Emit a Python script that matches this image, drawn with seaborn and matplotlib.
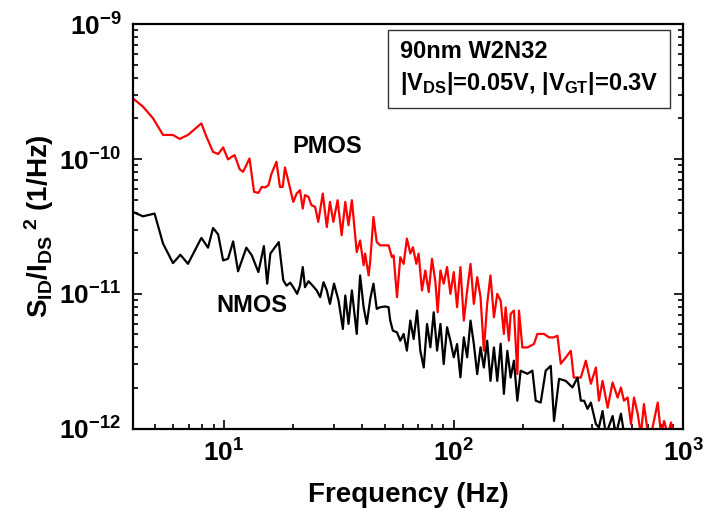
import matplotlib
matplotlib.use("Agg")
import matplotlib.pyplot as plt
import seaborn as sns
import pandas as pd
import numpy as np
from matplotlib.ticker import LogLocator, NullFormatter

# ---------------- data ----------------
pmos_f = [4.0, 4.43, 4.90, 5.42, 5.99, 6.40, 6.96, 7.96, 8.37, 8.95, 9.42, 9.90,
          10.4, 10.8, 11.1, 11.7, 12.1, 12.9, 13.5, 14.1, 14.6, 15.05, 15.6, 16.1,
          16.9, 17.5, 18.0, 18.4, 19.0, 20.0, 20.7, 21.4, 22.0, 22.5, 23.3, 24.0,
          24.9, 25.7, 26.9, 28.0, 28.9, 29.9, 31.2, 32.5, 33.7, 34.8, 36.0, 37.8,
          39.1, 40.5, 41.1, 42.6, 43.3, 44.7, 46.2, 47.8, 49.5, 52.0, 53.8, 54.7,
          56.6, 58.5, 60.5, 62.5, 64.7, 66.4, 68.7, 70.3, 72.7, 75.2, 77.8, 80.4,
          83.2, 85.1, 87.5, 90.4, 93.5, 96.7, 100.0, 103.4, 106.9, 110.6, 114.4,
          118.3, 122.3, 126.5, 130.8, 135.2, 139.8, 144.5, 149.6, 154.7, 160.0,
          165.3, 168.2, 173.8, 176.9, 182.8, 189.2, 192.3, 198.9, 209.2, 223.4,
          231.2, 247.2, 260.0, 272.5, 282.8, 292.4, 307.4, 323.3, 333.2, 357.5,
          375.9, 395.4, 415.9, 428.6, 444.6, 467.8, 491.8, 517.0, 534.5, 550.8,
          571.6, 591.0, 609.2, 632.3, 653.1, 673.0, 699.0, 723.0, 773.0, 799.0,
          823.7, 855.0, 883.0, 907.0]
pmos_s = [2.83e-10, 2.45e-10, 2.01e-10, 1.51e-10, 1.51e-10, 1.41e-10, 1.51e-10,
          1.84e-10, 1.47e-10, 1.13e-10, 1.09e-10, 1.22e-10, 9.94e-11, 1.04e-10,
          1.07e-10, 8.38e-11, 8.05e-11, 1.01e-10, 5.71e-11, 5.61e-11, 6.22e-11,
          6.15e-11, 6.40e-11, 7.82e-11, 9.55e-11, 6.22e-11, 6.22e-11, 8.67e-11,
          6.98e-11, 4.81e-11, 5.55e-11, 5.88e-11, 4.29e-11, 5.40e-11, 5.24e-11,
          4.55e-11, 4.42e-11, 3.42e-11, 5.55e-11, 3.13e-11, 4.81e-11, 3.42e-11,
          4.95e-11, 2.72e-11, 4.81e-11, 3.23e-11, 4.95e-11, 2.04e-11, 2.49e-11,
          1.63e-11, 1.99e-11, 1.37e-11, 1.77e-11, 3.72e-11, 2.42e-11, 2.29e-11,
          2.29e-11, 2.29e-11, 1.87e-11, 1.93e-11, 9.45e-12, 1.87e-11, 1.67e-11,
          2.57e-11, 1.99e-11, 2.22e-11, 1.67e-11, 1.99e-11, 1.06e-11, 1.49e-11,
          1.03e-11, 1.82e-11, 1.22e-11, 7.30e-12, 1.49e-11, 1.19e-11, 1.58e-11,
          1.00e-11, 1.45e-11, 7.96e-12, 1.58e-11, 6.33e-12, 1.06e-11, 1.67e-11,
          8.42e-12, 1.33e-11, 9.45e-12, 3.79e-12, 8.42e-12, 1.37e-11, 6.69e-12,
          1.00e-11, 8.90e-12, 5.04e-12, 7.94e-12, 4.49e-12, 7.10e-12, 7.51e-12,
          2.54e-12, 7.51e-12, 4.00e-12, 4.00e-12, 4.24e-12, 5.04e-12, 5.04e-12,
          4.75e-12, 4.75e-12, 4.89e-12, 3.03e-12, 3.37e-12, 3.78e-12, 2.39e-12,
          2.39e-12, 3.19e-12, 2.15e-12, 2.84e-12, 1.61e-12, 2.26e-12, 1.43e-12,
          2.20e-12, 1.70e-12, 2.02e-12, 1.61e-12, 1.70e-12, 1.08e-12, 1.70e-12,
          1.29e-12, 0.90e-12, 1.52e-12, 0.95e-12, 0.90e-12, 1.56e-12, 0.90e-12,
          1.14e-12, 0.90e-12, 1.11e-12, 0.90e-12]

nmos_f = [4.0, 4.43, 4.98, 5.42, 5.99, 6.45, 6.96, 7.96, 8.51, 8.95, 9.42, 9.90,
          10.4, 10.95, 11.5, 12.5, 13.2, 14.1, 14.9, 15.4, 15.9, 17.3, 18.1, 18.7,
          19.4, 20.0, 20.8, 21.4, 22.0, 22.5, 23.3, 24.3, 25.3, 26.2, 27.1, 28.0,
          28.9, 30.1, 31.5, 32.9, 33.7, 34.8, 36.0, 37.8, 39.1, 40.5, 41.8, 43.3,
          44.7, 46.2, 47.8, 50.3, 52.0, 52.9, 54.3, 56.6, 58.5, 60.5, 62.5, 64.7,
          66.9, 69.2, 71.5, 74.0, 76.5, 79.1, 81.8, 84.6, 87.5, 90.4, 93.5, 96.7,
          100.0, 103.4, 106.9, 110.6, 114.4, 118.3, 122.3, 126.5, 130.8, 135.2,
          139.8, 144.5, 149.6, 154.7, 160.0, 165.3, 171.1, 176.9, 182.8, 189.2,
          195.6, 209.2, 220.0, 227.5, 239.1, 251.4, 264.4, 273.3, 287.4, 307.4,
          328.8, 345.9, 357.5, 369.6, 382.4, 395.4, 415.9, 428.6, 444.6, 459.6,
          491.8, 508.3, 534.5, 552.6, 591.0]
nmos_s = [4.06e-11, 3.76e-11, 3.94e-11, 2.36e-11, 1.69e-11, 1.95e-11, 1.67e-11,
          2.60e-11, 2.20e-11, 3.08e-11, 2.76e-11, 1.77e-11, 1.82e-11, 2.45e-11,
          1.47e-11, 2.20e-11, 1.93e-11, 1.45e-11, 2.26e-11, 1.19e-11, 1.99e-11,
          2.42e-11, 1.26e-11, 1.15e-11, 1.21e-11, 1.12e-11, 1.00e-11, 1.15e-11,
          1.58e-11, 1.12e-11, 1.24e-11, 1.15e-11, 1.06e-11, 9.45e-12, 1.22e-11,
          1.06e-11, 8.42e-12, 1.19e-11, 8.92e-12, 5.49e-12, 9.72e-12, 5.98e-12,
          1.06e-11, 5.04e-12, 1.37e-11, 7.96e-12, 5.98e-12, 9.18e-12, 1.19e-11,
          7.73e-12, 7.96e-12, 8.05e-12, 7.96e-12, 6.33e-12, 5.33e-12, 5.18e-12,
          4.49e-12, 5.04e-12, 3.79e-12, 6.33e-12, 4.62e-12, 7.51e-12, 3.79e-12,
          2.84e-12, 5.98e-12, 4.01e-12, 7.30e-12, 3.79e-12, 5.98e-12, 3.01e-12,
          5.65e-12, 4.49e-12, 3.38e-12, 4.24e-12, 2.40e-12, 4.76e-12, 3.38e-12,
          6.33e-12, 4.24e-12, 2.54e-12, 4.01e-12, 2.84e-12, 4.49e-12, 2.26e-12,
          4.00e-12, 2.26e-12, 4.27e-12, 1.81e-12, 3.78e-12, 2.39e-12, 3.19e-12,
          1.61e-12, 2.69e-12, 2.55e-12, 2.69e-12, 1.61e-12, 1.56e-12, 2.69e-12,
          2.92e-12, 1.14e-12, 2.34e-12, 2.26e-12, 2.02e-12, 2.39e-12, 1.61e-12,
          1.61e-12, 1.40e-12, 1.56e-12, 1.08e-12, 1.02e-12, 1.35e-12, 0.90e-12,
          1.24e-12, 0.90e-12, 1.29e-12, 0.90e-12, 0.90e-12]

series_names = ["PMOS", "NMOS"]
series_colors = ["#ff0000", "#000000"]
box_lines = ["90nm W2N32",
             r"|V$_{\mathdefault{DS}}$|=0.05V, |V$_{\mathdefault{GT}}$|=0.3V"]

df = pd.concat([
    pd.DataFrame({"f": pmos_f, "S": pmos_s, "dev": "PMOS"}),
    pd.DataFrame({"f": nmos_f, "S": nmos_s, "dev": "NMOS"}),
], ignore_index=True)

# ---------------- style ----------------
sns.set_style("ticks")
plt.rcParams["font.family"] = ["Liberation Sans", "DejaVu Sans"]
plt.rcParams["font.weight"] = "bold"
plt.rcParams["mathtext.fontset"] = "custom"
plt.rcParams["mathtext.rm"] = "Liberation Sans:bold"
plt.rcParams["mathtext.bf"] = "Liberation Sans:bold"
plt.rcParams["mathtext.it"] = "Liberation Sans:bold"
plt.rcParams["mathtext.sf"] = "Liberation Sans:bold"
plt.rcParams["axes.unicode_minus"] = False
for key in ["text.color", "axes.labelcolor", "xtick.color", "ytick.color",
            "axes.edgecolor"]:
    plt.rcParams[key] = "black"

fig = plt.figure(figsize=(7.06, 5.17), dpi=100)
ax = fig.add_axes([0.188, 0.171, 0.780, 0.782])

sns.lineplot(data=df, x="f", y="S", hue="dev", hue_order=series_names,
             palette=series_colors, estimator=None, sort=False, lw=1.6,
             legend=False, ax=ax)

ax.set_xscale("log")
ax.set_yscale("log")
ax.set_xlim(4, 1000)
ax.set_ylim(1e-12, 1e-9)

ax.xaxis.set_major_locator(LogLocator(base=10, numticks=10))
ax.xaxis.set_minor_locator(LogLocator(base=10, subs=np.arange(2, 10), numticks=20))
ax.yaxis.set_major_locator(LogLocator(base=10, numticks=10))
ax.yaxis.set_minor_locator(LogLocator(base=10, subs=np.arange(2, 10), numticks=20))
ax.xaxis.set_minor_formatter(NullFormatter())
ax.yaxis.set_minor_formatter(NullFormatter())

ax.tick_params(which="both", direction="in", top=False, right=True,
               width=1.2, labelsize=19, pad=8, colors="black")
ax.tick_params(which="major", length=6.5)
ax.tick_params(which="minor", length=3.5)
for sp in ax.spines.values():
    sp.set_linewidth(1.6)
    sp.set_color("black")
for lab in ax.get_xticklabels() + ax.get_yticklabels():
    lab.set_fontweight("bold")

ax.set_xlabel("Frequency (Hz)", fontsize=20, fontweight="bold", labelpad=11)
ax.set_ylabel(r"S$_{\mathdefault{ID}}$/I$_{\mathdefault{DS}}$$^{\ \mathdefault{2}}$ (1/Hz)",
              fontsize=20, fontweight="bold", labelpad=2)

ax.text(28, 1.23e-10, series_names[0], fontsize=17, fontweight="bold",
        ha="center", va="center")
ax.text(13.2, 8.2e-12, series_names[1], fontsize=17, fontweight="bold",
        ha="center", va="center")

ax.text(0.485, 0.962, box_lines[0] + "\n" + box_lines[1], transform=ax.transAxes,
        fontsize=17, fontweight="bold", ha="left", va="top", linespacing=1.35,
        bbox=dict(boxstyle="square,pad=0.5", fc="white", ec="#333333", lw=1.0))

fig.savefig("out.png", dpi=100)
